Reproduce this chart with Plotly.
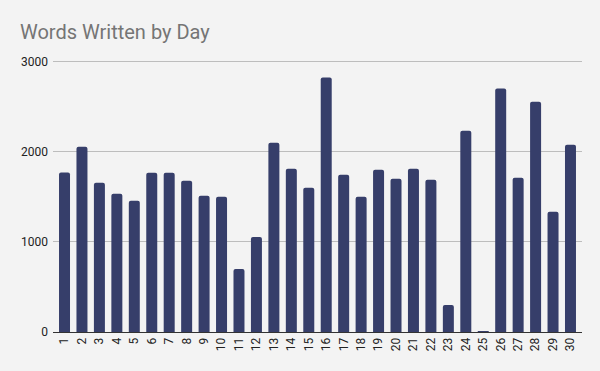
import plotly.graph_objects as go

days = [str(i) for i in range(1, 31)]
words = [1770, 2055, 1655, 1533, 1455, 1767, 1767, 1678, 1511, 1500,
         700, 1055, 2100, 1811, 1600, 2822, 1744, 1500, 1800, 1700,
         1811, 1689, 300, 2233, 10, 2700, 1711, 2555, 1333, 2078]
y_ticks = [0, 1000, 2000, 3000]

fig = go.Figure(go.Bar(
    x=days, y=words,
    marker=dict(color="#363e6a", line=dict(width=0), cornerradius=2),
    hoverinfo="x+y",
))

fig.update_layout(
    width=600, height=371,
    paper_bgcolor="#f3f3f3", plot_bgcolor="#f3f3f3",
    margin=dict(l=53, r=18, t=57, b=39),
    bargap=0.37,
    font=dict(family="Roboto", size=12, color="#222222"),
    title=dict(text="Words Written by Day", x=20/600, xanchor="left",
               y=1 - 32/371, yanchor="middle",
               font=dict(family="Roboto", size=20, color="#757575")),
    showlegend=False,
)
fig.update_xaxes(type="category", tickangle=-90, showgrid=False,
                 range=[-0.66, 29.66],
                 showline=True, linecolor="#333333", linewidth=1,
                 ticks="", tickfont=dict(size=12, color="#222222"))
fig.update_yaxes(range=[0, 3050], tickvals=y_ticks, showgrid=True,
                 gridcolor="#bdbdbd", gridwidth=1, zeroline=False,
                 ticks="", ticklabelstandoff=4,
                 tickfont=dict(size=12, color="#222222"))

fig.write_html("out.html", config={"displayModeBar": False},
               post_script="document.body.style.margin='0';document.body.style.background='#f3f3f3';")
